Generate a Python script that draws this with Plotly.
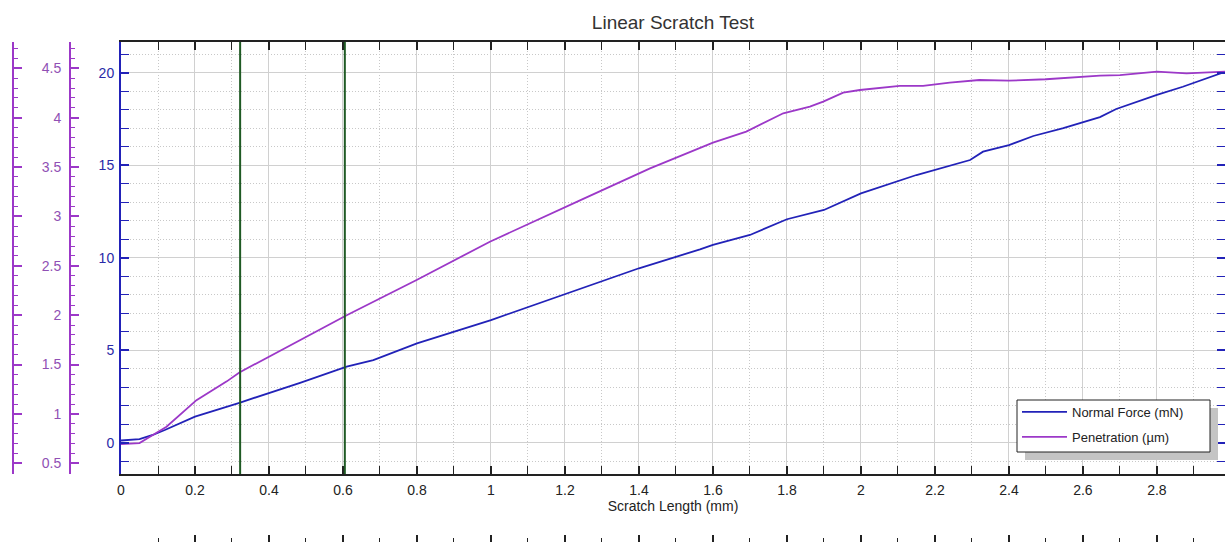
import plotly.graph_objects as go

# ---------------- data ----------------
force_x = [0, 0.05, 0.086, 0.12, 0.2, 0.32, 0.484, 0.61, 0.682, 0.8, 1.0, 1.2, 1.4,
           1.565, 1.6, 1.7, 1.8, 1.9, 2.0, 2.15, 2.295, 2.33, 2.4, 2.466, 2.547,
           2.646, 2.69, 2.8, 2.87, 2.984]
normal_force = [0.12, 0.2, 0.42, 0.7, 1.41, 2.16, 3.24, 4.11, 4.47, 5.37, 6.63, 8.05,
                9.43, 10.45, 10.69, 11.23, 12.08, 12.58, 13.48, 14.47, 15.28, 15.73,
                16.09, 16.58, 17.0, 17.6, 18.04, 18.8, 19.24, 20.05]

pen_x = [0, 0.05, 0.086, 0.123, 0.204, 0.286, 0.32, 0.4, 0.484, 0.61, 0.799, 0.997,
         1.245, 1.43, 1.6, 1.69, 1.79, 1.862, 1.898, 1.952, 1.997, 2.105, 2.168, 2.24,
         2.32, 2.40, 2.50, 2.59, 2.646, 2.7, 2.8, 2.88, 2.984]
penetration = [0.695, 0.705, 0.787, 0.87, 1.14, 1.33, 1.42, 1.58, 1.749, 2.00, 2.356,
               2.744, 3.17, 3.487, 3.747, 3.858, 4.044, 4.111, 4.162, 4.253, 4.28,
               4.321, 4.321, 4.354, 4.381, 4.374, 4.389, 4.415, 4.425, 4.43, 4.466,
               4.449, 4.466]

marker_positions = [0.322, 0.605]

title_text = "Linear Scratch Test"
x_title = "Scratch Length (mm)"
force_name = "Normal Force (mN)"
pen_name = "Penetration (µm)"

# ---------------- layout geometry ----------------
W, H = 1225, 542
L_PX, R_PX, T_PX, B_PX = 121, 1225, 42, 474
xdom = [L_PX / W, R_PX / W]
ydom = [(H - B_PX) / H, (H - T_PX) / H]

X_RANGE = [0, 2.984]
F_RANGE = [-1.69, 21.66]
P_RANGE = [0.392, 4.766]

BLUE = "#2222b8"
BLUE_TXT = "#2a2aa8"
PURPLE = "#9c38c8"
PURPLE_TXT = "#9050b4"
GREEN = "#1f5a24"
FONT = "Liberation Sans, Arial, sans-serif"
DOTS = "1px,2px"

fig = go.Figure()

fig.add_trace(go.Scatter(x=force_x, y=normal_force, name=force_name, mode="lines",
                         legendgroup="f",
                         line=dict(color=BLUE, width=1.8), xaxis="x", yaxis="y"))
fig.add_trace(go.Scatter(x=pen_x, y=penetration, name=pen_name, mode="lines",
                         legendgroup="p",
                         line=dict(color=PURPLE, width=1.8), xaxis="x", yaxis="y2"))
# invisible helpers so that the extra axes are drawn
fig.add_trace(go.Scatter(x=pen_x, y=penetration, mode="lines", opacity=0,
                         showlegend=False, hoverinfo="skip", xaxis="x", yaxis="y3"))
fig.add_trace(go.Scatter(x=force_x, y=normal_force, mode="lines", opacity=0,
                         showlegend=False, hoverinfo="skip", xaxis="x2", yaxis="y"))

for xm in marker_positions:
    fig.add_shape(type="line", xref="x", yref="paper", x0=xm, x1=xm,
                  y0=ydom[0], y1=ydom[1], line=dict(color=GREEN, width=2), layer="above")

fig.update_layout(
    width=W, height=H,
    margin=dict(l=0, r=0, t=0, b=0, autoexpand=False),
    paper_bgcolor="white", plot_bgcolor="white",
    font=dict(family=FONT, size=13, color="#222222"),
    title=dict(text=title_text, x=(L_PX + R_PX) / 2 / W, xanchor="center",
               y=1 - 22 / H, yanchor="middle", automargin=False,
               font=dict(family=FONT, size=19, color="#333333")),
    showlegend=True,
    legend=dict(x=1017 / W, y=(H - 397) / H, xanchor="left", yanchor="top",
                bgcolor="rgba(0,0,0,0)", borderwidth=0,
                font=dict(family=FONT, size=13, color="#222222"),
                itemwidth=45, tracegroupgap=5),
    xaxis=dict(domain=xdom, anchor="y", range=X_RANGE, dtick=0.2, tick0=0,
               automargin=False,
               ticks="inside", ticklen=8, tickwidth=1.5, tickcolor="#222222",
               showline=True, linecolor="#222222", linewidth=1.5, mirror="allticks",
               showgrid=True, gridcolor="#d0d0d0", gridwidth=1, zeroline=False,
               ticklabelstandoff=2,
               tickfont=dict(size=14, color="#222222"),
               title=dict(text=x_title, standoff=0, font=dict(size=14, color="#222222")),
               minor=dict(dtick=0.1, tick0=0, ticks="inside", ticklen=4, tickwidth=1,
                          tickcolor="#222222", showgrid=True, gridcolor="#c8c8c8",
                          griddash=DOTS, gridwidth=1)),
    xaxis2=dict(domain=xdom, overlaying="x", anchor="free", position=0, side="bottom",
                automargin=False,
                range=X_RANGE, dtick=0.2, tick0=0, ticks="inside", ticklen=7,
                tickwidth=1.5, tickcolor="#222222", showline=False,
                showticklabels=False, showgrid=False, zeroline=False,
                minor=dict(dtick=0.1, tick0=0, ticks="inside", ticklen=4, tickwidth=1,
                           tickcolor="#222222", showgrid=False)),
    yaxis=dict(domain=ydom, anchor="x", range=F_RANGE, dtick=5, tick0=0,
               automargin=False,
               ticks="inside", ticklen=8, tickwidth=1.5, tickcolor=BLUE,
               showline=True, linecolor=BLUE, linewidth=2, mirror="allticks",
               showgrid=True, gridcolor="#d0d0d0", gridwidth=1, zeroline=False,
               ticklabelstandoff=2,
               tickfont=dict(size=14, color=BLUE_TXT),
               minor=dict(dtick=1, tick0=0, ticks="inside", ticklen=4, tickwidth=1,
                          tickcolor=BLUE, showgrid=True, gridcolor="#c8c8c8",
                          griddash=DOTS, gridwidth=1)),
    yaxis2=dict(domain=ydom, overlaying="y", anchor="free", position=70 / W,
                automargin=False,
                side="left", range=P_RANGE, dtick=0.5, tick0=0,
                ticks="inside", ticklen=8, tickwidth=1.5, tickcolor=PURPLE,
                showline=True, linecolor=PURPLE, linewidth=2, showgrid=False,
                zeroline=False, ticklabelstandoff=5,
                tickfont=dict(size=14, color=PURPLE_TXT),
                minor=dict(dtick=0.1, tick0=0, ticks="inside", ticklen=4, tickwidth=1,
                           tickcolor=PURPLE, showgrid=False)),
    yaxis3=dict(domain=ydom, overlaying="y", anchor="free", position=13 / W,
                automargin=False,
                side="left", range=P_RANGE, dtick=0.5, tick0=0,
                ticks="inside", ticklen=8, tickwidth=1.5, tickcolor=PURPLE,
                showline=True, linecolor=PURPLE, linewidth=2, showgrid=False,
                zeroline=False, showticklabels=False,
                minor=dict(dtick=0.1, tick0=0, ticks="inside", ticklen=4, tickwidth=1,
                           tickcolor=PURPLE, showgrid=False)),
)

# legend frame with drop shadow
fig.add_shape(type="rect", xref="paper", yref="paper",
              x0=1025 / W, x1=1218 / W, y0=(H - 460) / H, y1=(H - 408) / H,
              fillcolor="#c4c4c4", line=dict(width=0), layer="above")
fig.add_shape(type="rect", xref="paper", yref="paper",
              x0=1017 / W, x1=1210 / W, y0=(H - 452) / H, y1=(H - 400) / H,
              fillcolor="white", line=dict(color="#222222", width=1), layer="above")

fig.write_html("out.html", config={"displayModeBar": False},
               post_script="document.body.style.margin='0px';document.body.style.padding='0px';")
